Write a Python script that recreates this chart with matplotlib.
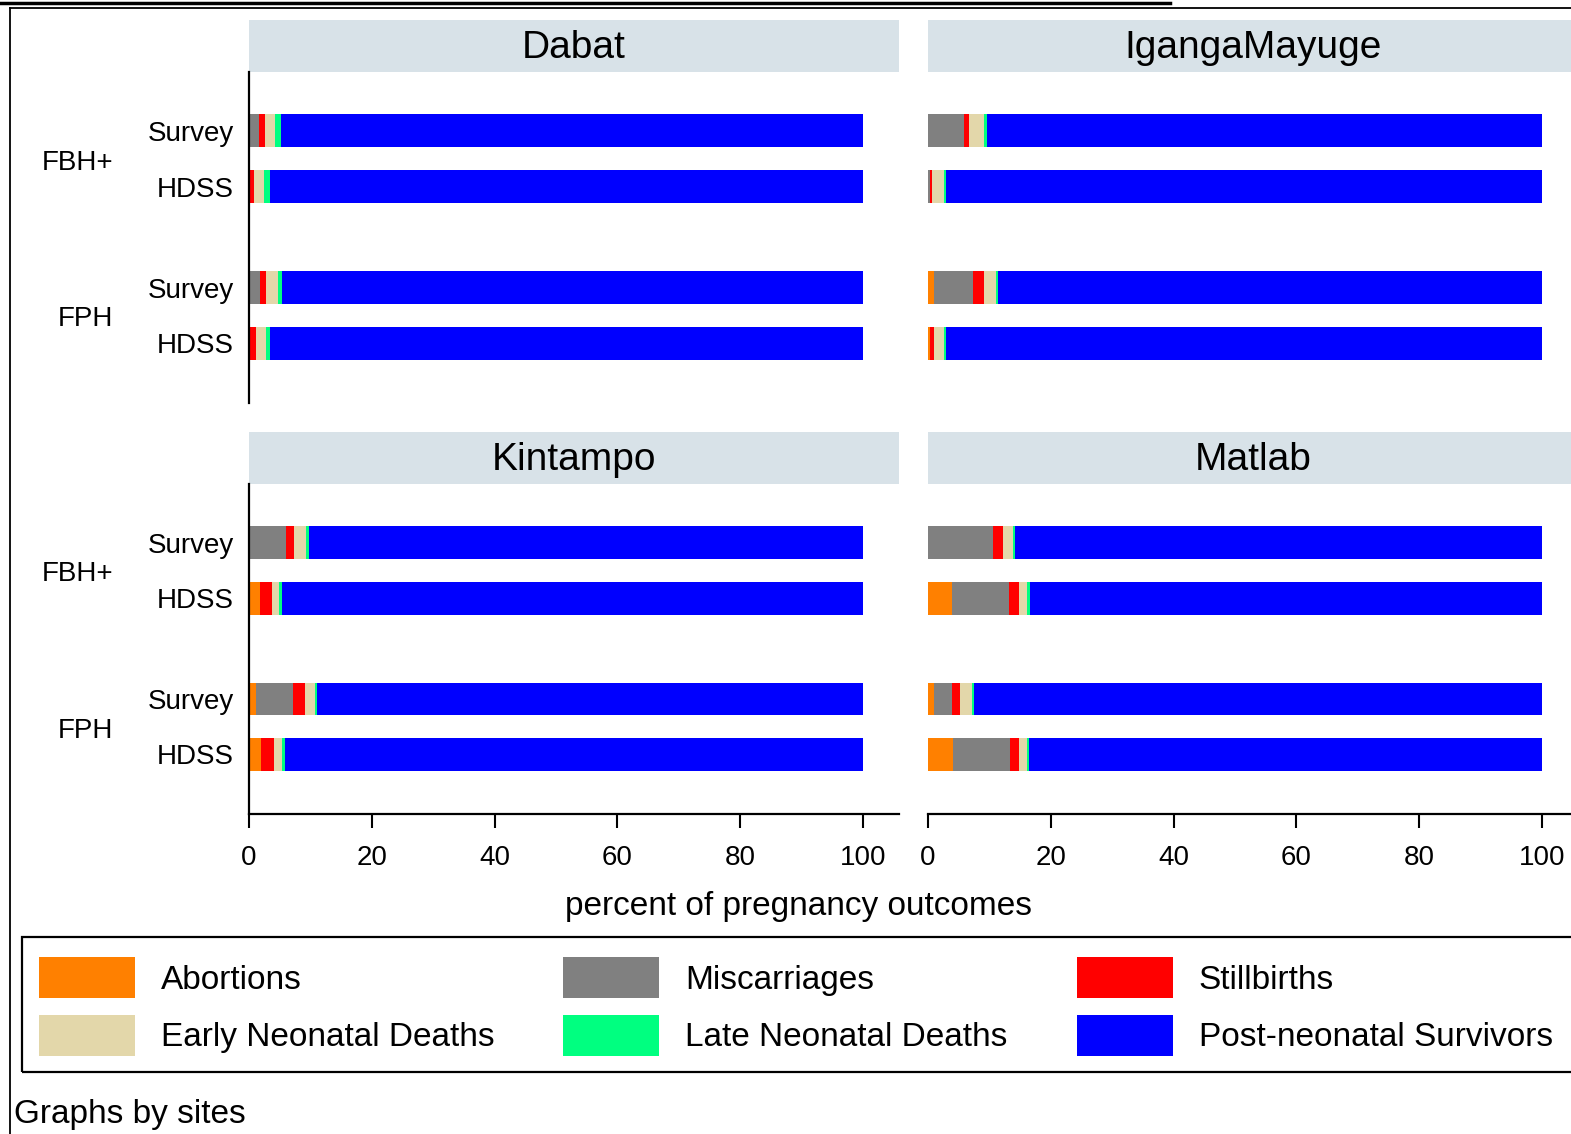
import matplotlib
matplotlib.use("Agg")
import matplotlib.pyplot as plt
from matplotlib.lines import Line2D
from matplotlib.patches import Patch, Rectangle
import numpy as np

plt.rcParams["font.family"] = ["Liberation Sans", "DejaVu Sans"]

# Rows within each site: (history type, source)
row_labels = ["Survey", "HDSS", "Survey", "HDSS"]
group_labels = ["FBH+", "FPH"]
sites = ["Dabat", "IgangaMayuge", "Kintampo", "Matlab"]

# Percent of pregnancy outcomes, rows = FBH+ Survey, FBH+ HDSS, FPH Survey, FPH HDSS
abortions = {
    "Dabat": [0.1, 0.1, 0.2, 0.1],
    "IgangaMayuge": [0.0, 0.0, 1.0, 0.3],
    "Kintampo": [0.0, 1.8, 1.1, 1.9],
    "Matlab": [0.0, 3.85, 1.0, 4.1],
}
miscarriages = {
    "Dabat": [1.5, 0.0, 1.6, 0.0],
    "IgangaMayuge": [5.9, 0.25, 6.3, 0.0],
    "Kintampo": [6.0, 0.0, 6.1, 0.0],
    "Matlab": [10.6, 9.35, 2.85, 9.2],
}
stillbirths = {
    "Dabat": [1.0, 0.7, 1.0, 1.1],
    "IgangaMayuge": [0.8, 0.45, 1.9, 0.7],
    "Kintampo": [1.4, 1.9, 1.9, 2.1],
    "Matlab": [1.6, 1.55, 1.35, 1.45],
}
early_neonatal = {
    "Dabat": [1.7, 1.6, 1.9, 1.6],
    "IgangaMayuge": [2.45, 1.9, 1.9, 1.6],
    "Kintampo": [1.85, 1.2, 1.6, 1.4],
    "Matlab": [1.6, 1.45, 1.9, 1.45],
}
late_neonatal = {
    "Dabat": [0.9, 1.1, 0.6, 0.7],
    "IgangaMayuge": [0.45, 0.3, 0.3, 0.3],
    "Kintampo": [0.45, 0.4, 0.4, 0.45],
    "Matlab": [0.45, 0.35, 0.4, 0.3],
}
post_neonatal = {
    "Dabat": [94.8, 96.5, 94.7, 96.5],
    "IgangaMayuge": [90.4, 97.1, 88.6, 97.1],
    "Kintampo": [90.3, 94.7, 88.9, 94.15],
    "Matlab": [85.75, 83.45, 92.5, 83.5],
}

outcomes = [
    ("Abortions", abortions, "#ff8000"),
    ("Miscarriages", miscarriages, "#808080"),
    ("Stillbirths", stillbirths, "#ff0000"),
    ("Early Neonatal Deaths", early_neonatal, "#e3d7aa"),
    ("Late Neonatal Deaths", late_neonatal, "#00ff80"),
    ("Post-neonatal Survivors", post_neonatal, "#0000ff"),
]

W, H = 1571, 1134
ypos = np.array([0, 1, 2.8, 3.79])
XMAX = 650 / 6.14


def box(x0, y0, x1, y1):
    return [x0 / W, 1 - y1 / H, (x1 - x0) / W, (y1 - y0) / H]


fig = plt.figure(figsize=(W / 100, H / 100), dpi=100)

cols = [(249, 899), (928, 1578)]
rows = [(20, 72, 403), (432, 484, 814)]

for k, site in enumerate(sites):
    r, c = divmod(k, 2)
    sx0, sx1 = cols[c]
    st0, top, bot = rows[r]

    strip = fig.add_axes(box(sx0, st0, sx1, top))
    strip.set_facecolor("#d8e2e8")
    strip.set_xticks([])
    strip.set_yticks([])
    for s in strip.spines.values():
        s.set_visible(False)
    strip.text(0.5, 0.47, site, ha="center", va="center", fontsize=28,
               transform=strip.transAxes)

    ax = fig.add_axes(box(sx0, top, sx1, bot))
    left = np.zeros(4)
    for name, series, color in outcomes:
        vals = np.array(series[site])
        ax.barh(ypos, vals, left=left, height=0.59, color=color, linewidth=0)
        left += vals
    ax.set_xlim(0, XMAX)
    ax.set_ylim(4.86, -1.05)
    for s in ["top", "right"]:
        ax.spines[s].set_visible(False)
    ax.spines["left"].set_linewidth(1.6)
    ax.spines["bottom"].set_linewidth(1.6)
    ax.spines["left"].set_visible(c == 0)

    if c == 0:
        ax.set_yticks(ypos, row_labels)
        ax.tick_params(axis="y", length=0, pad=11, labelsize=20)
        for g, yc in zip(group_labels, [(ypos[0] + ypos[1]) / 2, (ypos[2] + ypos[3]) / 2]):
            ax.annotate(g, xy=(113 / W, yc + 0.07), xycoords=("figure fraction", "data"),
                        ha="right", va="center", fontsize=20)
    else:
        ax.set_yticks([])

    if r == 1:
        ax.set_xticks(np.arange(0, 101, 20))
        ax.tick_params(axis="x", length=10, width=1.5, pad=12, labelsize=20)
    else:
        ax.spines["bottom"].set_visible(False)
        ax.set_xticks([])

fig.text(798 / W, 1 - 907 / H, "percent of pregnancy outcomes", ha="center",
         va="center", fontsize=24)

order = [0, 3, 1, 4, 2, 5]
handles = [Patch(facecolor=outcomes[i][2], edgecolor="none") for i in order]
labels = [outcomes[i][0] for i in order]
fig.legend(handles, labels, ncol=3, loc="upper left",
           bbox_to_anchor=(22 / W, 1 - 940.5 / H), borderaxespad=0,
           fontsize=24, handlelength=2.88, handleheight=1.52,
           handletextpad=0.78, labelspacing=0.5, borderpad=0.5,
           columnspacing=2.07, frameon=False)
# legend frame runs past the right edge
fig.add_artist(Rectangle((22 / W, 1 - 1072 / H), 1600 / W, 135 / H,
                         transform=fig.transFigure, fill=False,
                         edgecolor="black", linewidth=1.6))

fig.text(14 / W, 1 - 1115 / H, "Graphs by sites", ha="left", va="center",
         fontsize=24)

# outer frame and top rule
fig.add_artist(Line2D([0, 1170 / W], [1 - 3 / H] * 2, color="black", lw=2.5,
                      transform=fig.transFigure))
fig.add_artist(Line2D([10 / W, 1], [1 - 8 / H] * 2, color="black", lw=1.3,
                      transform=fig.transFigure))
fig.add_artist(Line2D([10 / W] * 2, [1 - 8 / H, 0], color="black", lw=1.3,
                      transform=fig.transFigure))

fig.savefig("out.png", dpi=100)
